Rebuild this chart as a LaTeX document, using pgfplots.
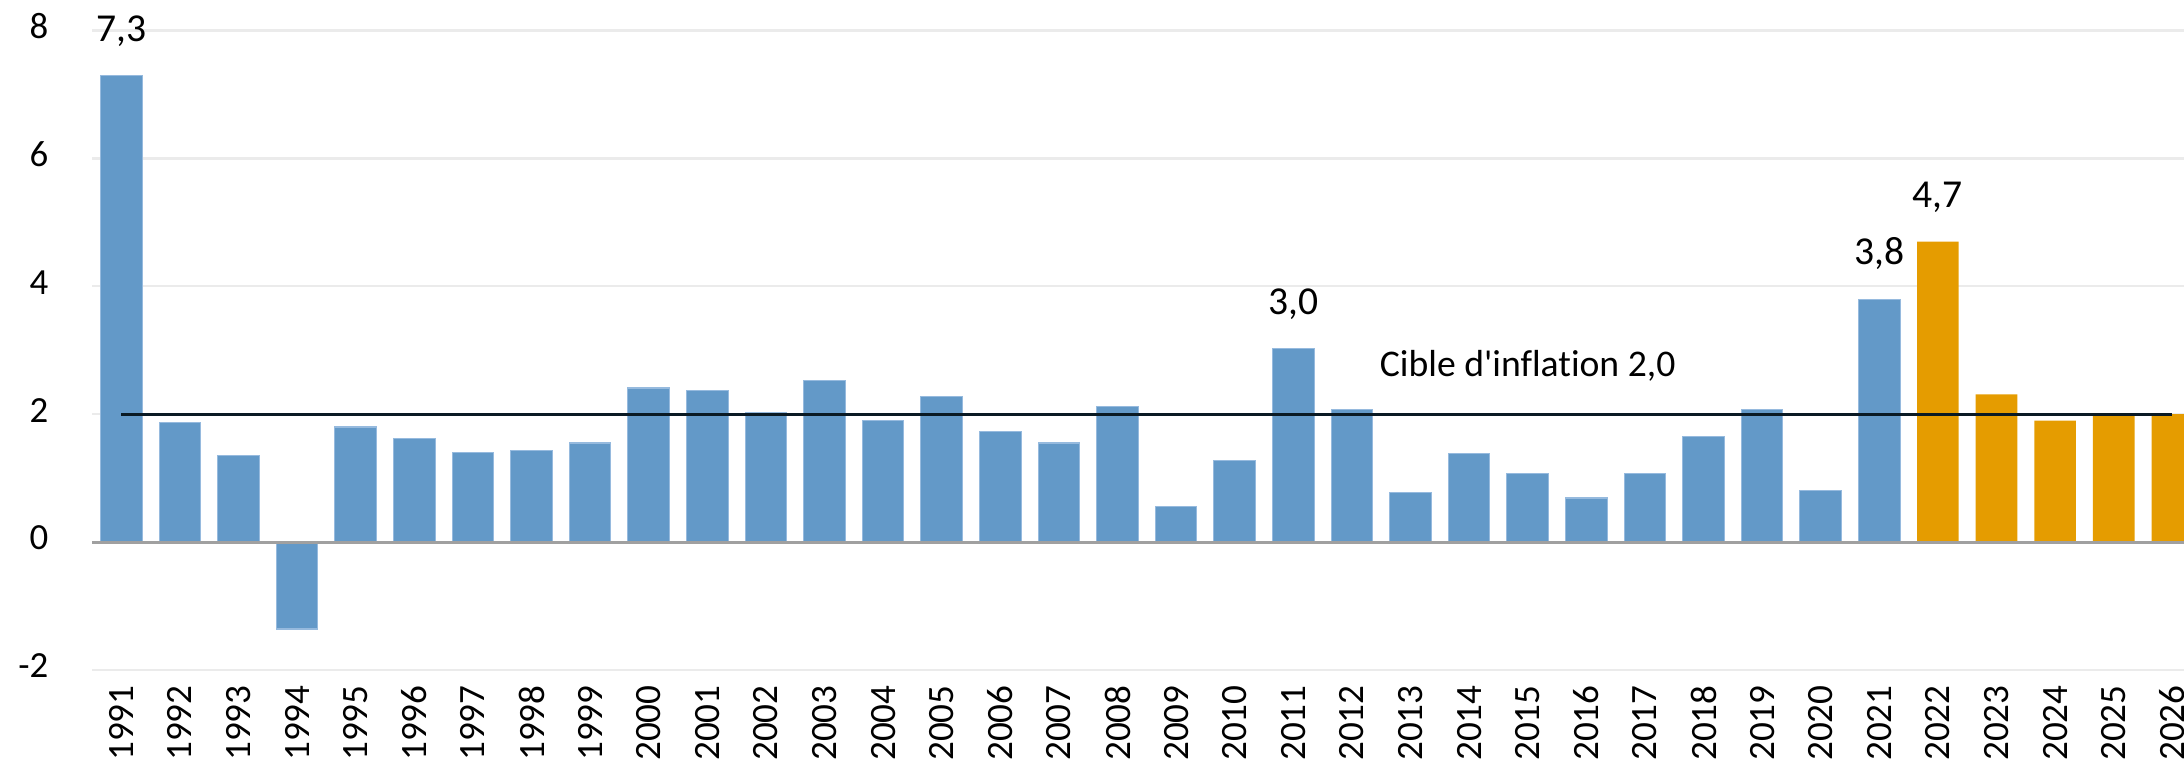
\documentclass[border=0pt]{standalone}
\usepackage{fontspec}
\setmainfont[Ligatures={NoCommon}]{Carlito}
\usepackage{pgfplots}
\pgfplotsset{compat=1.18}
\definecolor{barblue}{RGB}{99,153,200}
\definecolor{barblueedge}{RGB}{150,186,222}
\definecolor{barorange}{RGB}{229,156,0}
\definecolor{gridgray}{RGB}{235,235,235}
\definecolor{zerogray}{RGB}{160,160,160}
\definecolor{targetline}{RGB}{10,26,36}
\begin{document}
\begin{tikzpicture}
\begin{axis}[
  name=ax,
  scale only axis,
  width=766.3pt, height=234.2pt,
  xmin=-0.5, xmax=35.2,
  ymin=-2, ymax=8,
  ytick={-2,0,2,4,6,8},
  yticklabels={-2,0,2,4,6,8},
  xtick={0,...,35},
  xticklabels={1991,1992,1993,1994,1995,1996,1997,1998,1999,2000,2001,2002,2003,2004,2005,2006,2007,2008,2009,2010,2011,2012,2013,2014,2015,2016,2017,2018,2019,2020,2021,2022,2023,2024,2025,2026},
  xticklabel style={rotate=90, anchor=east, inner sep=0pt, font=\fontsize{13.6}{15}\selectfont},
  xticklabel shift=5.5pt,
  yticklabel style={font=\fontsize{13.5}{15}\selectfont, xshift=-12.5pt, yshift=1.5pt},
  major tick length=0pt,
  axis line style={draw=none},
  ymajorgrids, grid style={gridgray, line width=0.8pt},
  clip=true,
]
\addplot[ybar, bar width=0.71, bar shift=0pt, fill=barblue, draw=barblueedge, line width=0.4pt] coordinates {
(0,7.3) (1,1.87) (2,1.35) (3,-1.36) (4,1.80) (5,1.62) (6,1.40) (7,1.43) (8,1.55) (9,2.41)
(10,2.37) (11,2.03) (12,2.53) (13,1.90) (14,2.28) (15,1.73) (16,1.55) (17,2.12) (18,0.55) (19,1.27)
(20,3.03) (21,2.08) (22,0.77) (23,1.38) (24,1.07) (25,0.69) (26,1.07) (27,1.65) (28,2.07) (29,0.80) (30,3.8)
};
\addplot[ybar, bar width=0.71, bar shift=0pt, fill=barorange, draw=none] coordinates {
(31,4.7) (32,2.31) (33,1.90) (34,2.0) (35,2.0)
};
\addplot[sharp plot, draw=zerogray, line width=1.1pt] coordinates {(-0.5,0) (35.2,0)};
\addplot[sharp plot, draw=targetline, line width=1.1pt] coordinates {(0,2) (35,2)};
\addplot[only marks, mark=none, nodes near coords, point meta=explicit symbolic,
  nodes near coords style={anchor=base, yshift=12.5pt, font=\fontsize{14.5}{16}\selectfont, text=black}]
  coordinates {(0,7.3)[7,3] (20,3.03)[3,0] (30,3.8)[3,8] (31,4.7)[4,7]};
\addplot[only marks, mark=none, nodes near coords, point meta=explicit symbolic,
  nodes near coords style={anchor=center, font=\fontsize{13.8}{16}\selectfont, text=black}]
  coordinates {(24.0,2.75)[Cible d\textquotesingle inflation 2,0]};
\end{axis}
\pgfresetboundingbox
\useasboundingbox ([xshift=-33.7pt,yshift=-34.4pt]ax.south west) rectangle ([yshift=11.2pt]ax.north east);
\end{tikzpicture}
\end{document}
